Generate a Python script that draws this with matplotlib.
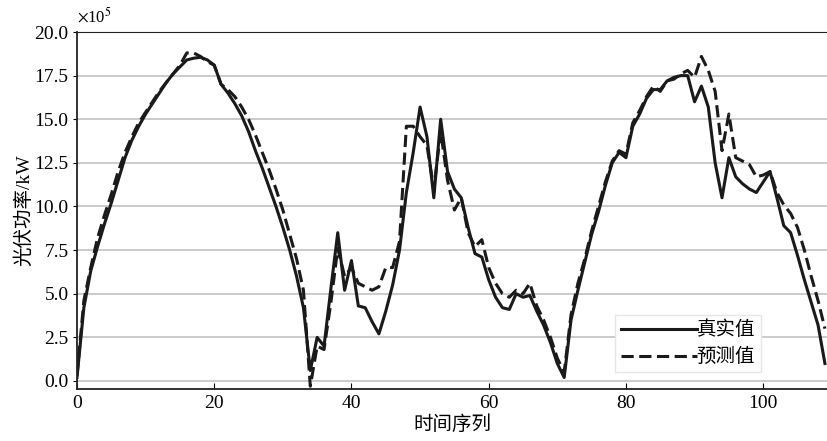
import numpy as np
import matplotlib
matplotlib.use("Agg")
import matplotlib.pyplot as plt
import matplotlib.ticker as ticker

plt.rcParams['font.family'] = ['Liberation Serif', 'Noto Sans CJK SC']
plt.rcParams['mathtext.fontset'] = 'stix'

# PV power (x10^5 kW) per time step
actual = [0.2, 4.2, 6.3, 7.7, 9.0, 10.2, 11.5, 12.8, 13.8, 14.6,
          15.3, 15.9, 16.5, 17.1, 17.6, 18.0, 18.4, 18.5, 18.55, 18.4,
          18.1, 17.0, 16.5, 15.9, 15.2, 14.3, 13.2, 12.2, 11.1, 10.0,
          8.8, 7.5, 6.0, 4.2, 0.6, 2.5, 2.0, 5.3, 8.5, 5.2,
          6.9, 4.3, 4.2, 3.4, 2.7, 4.0, 5.5, 7.5, 10.8, 13.1,
          15.7, 14.0, 10.5, 15.0, 12.0, 11.0, 10.5, 8.8, 7.3, 7.1,
          5.8, 4.8, 4.2, 4.1, 5.0, 4.8, 4.9, 4.0, 3.2, 2.2,
          1.0, 0.2, 3.5, 5.2, 6.8, 8.4, 9.7, 11.2, 12.5, 13.1,
          12.8, 14.6, 15.3, 16.2, 16.7, 16.7, 17.2, 17.4, 17.5, 17.5,
          16.0, 16.9, 15.7, 12.5, 10.5, 12.8, 11.7, 11.3, 11.0, 10.8,
          11.4, 12.0, 10.5, 8.9, 8.5, 7.2, 5.8, 4.5, 3.2, 1.0]
predicted = [0.3, 4.6, 6.5, 8.2, 9.5, 10.7, 12.0, 13.1, 14.0, 14.8,
             15.4, 16.0, 16.6, 17.1, 17.6, 18.1, 18.8, 18.8, 18.6, 18.3,
             18.1, 17.0, 16.7, 16.3, 15.7, 15.0, 14.1, 13.1, 12.1, 11.0,
             9.8, 8.4, 7.0, 5.2, -0.3, 2.0, 1.8, 4.5, 7.6, 6.0,
             6.5, 5.6, 5.4, 5.2, 5.4, 6.5, 6.5, 8.0, 14.6, 14.6,
             14.0, 13.5, 11.0, 14.3, 11.5, 9.8, 10.5, 8.5, 7.7, 8.1,
             6.5, 5.6, 5.0, 4.8, 5.2, 5.0, 5.6, 4.3, 3.5, 2.5,
             1.3, 0.5, 3.8, 5.6, 7.0, 8.6, 10.0, 11.4, 12.6, 13.2,
             13.0, 14.8, 15.5, 16.3, 16.9, 16.6, 17.2, 17.3, 17.6, 17.8,
             17.4, 18.6, 17.8, 16.6, 13.2, 15.3, 12.8, 12.6, 12.4, 11.7,
             11.8, 12.0, 10.8, 10.1, 9.6, 8.8, 7.5, 6.0, 4.6, 3.0]
t = np.arange(len(actual))

fig = plt.figure(figsize=(8.27, 4.41), dpi=100)
ax = fig.add_axes([0.0931, 0.1179, 0.9069, 0.8095])

ax.grid(True, axis='y', color='#bdbdbd', linewidth=1.1)
ax.set_axisbelow(True)

ax.plot(t, actual, color='#1a1a1a', linewidth=2.2, label='真实值')
ax.plot(t, predicted, color='#1a1a1a', linewidth=2.2, dashes=(4, 1.8), label='预测值')

ax.set_xlim(0, 109.3)
ax.set_ylim(-0.46, 20.0)
ax.xaxis.set_major_locator(ticker.MultipleLocator(20))
ax.yaxis.set_major_locator(ticker.MultipleLocator(2.5))
ax.yaxis.set_major_formatter(ticker.FormatStrFormatter('%.1f'))
ax.tick_params(axis='x', direction='in', length=4, labelsize=14, pad=4)
ax.tick_params(axis='y', direction='out', length=3, labelsize=14, pad=3)

for side in ['left', 'bottom', 'top']:
    ax.spines[side].set_color('#222222')
ax.spines['left'].set_linewidth(1.3)
ax.spines['bottom'].set_linewidth(1.3)
ax.spines['top'].set_linewidth(0.8)
ax.spines['right'].set_visible(False)

ax.set_xlabel('时间序列', fontsize=14, labelpad=3)
ax.set_ylabel('光伏功率/kW', fontsize=14, labelpad=1)
ax.text(0.0, 1.015, r'$\times$10$^5$', transform=ax.transAxes, fontsize=12,
        ha='left', va='bottom')

leg = ax.legend(loc='lower right', bbox_to_anchor=(0.925, 0.02), fontsize=14,
                frameon=True, fancybox=False, edgecolor='#e6e6e6', framealpha=1,
                handlelength=3.9, handletextpad=0.0, borderpad=0.3, labelspacing=0.45)

plt.savefig('out.png', dpi=100)
